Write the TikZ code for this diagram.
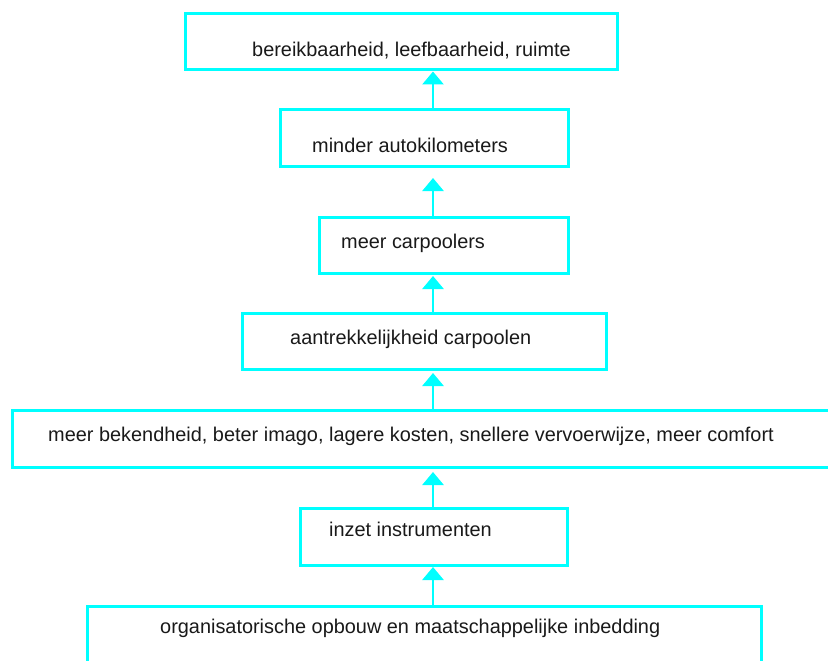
\documentclass[tikz,border=0pt]{standalone}
\usepackage{fontspec}
\setmainfont{Liberation Sans}
\usetikzlibrary{arrows.meta}
\definecolor{boxcyan}{RGB}{0,255,255}
\tikzset{
  box/.style={draw=boxcyan, line width=3pt, rectangle, inner sep=0pt, outer sep=0pt},
  label/.style={anchor=base west, inner sep=0pt, font=\fontsize{19.9}{22}\selectfont, text=black!90},
  link/.style={draw=boxcyan, line width=2.8pt, -{Triangle[width=21pt,length=13pt]}}
}
\begin{document}
\begin{tikzpicture}[x=1pt, y=-1pt]
\useasboundingbox (0,0) rectangle (828,661);
\clip (0,0) rectangle (828,661);

% boxes, from top to bottom
\node[box, minimum width=432pt, minimum height=56pt] (b1) at (401,42) {};
\node[box, minimum width=288pt, minimum height=56pt] (b2) at (424,138) {};
\node[box, minimum width=249pt, minimum height=56pt] (b3) at (443.5,245) {};
\node[box, minimum width=364pt, minimum height=56pt] (b4) at (424,341) {};
\node[box, minimum width=840pt, minimum height=57pt] (b5) at (432,438.5) {};
\node[box, minimum width=267pt, minimum height=57pt] (b6) at (433.5,536.5) {};
\node[box, minimum width=674pt, minimum height=58pt] (b7) at (424,635) {};

% texts
\node[label] (t1) at (252,57) {bereikbaarheid, leefbaarheid, ruimte};
\node[label] (t2) at (312,153) {minder autokilometers};
\node[label] (t3) at (341,248) {meer carpoolers};
\node[label] (t4) at (290,344) {aantrekkelijkheid carpoolen};
\node[label] (t5) at (48,441) {meer bekendheid, beter imago, lagere kosten, snellere vervoerwijze, meer comfort};
\node[label] (t6) at (329,536) {inzet instrumenten};
\node[label] (t7) at (160,633) {organisatorische opbouw en maatschappelijke inbedding};

% vertical axis of the arrows
\coordinate (ax) at (433,0);

% arrows
\draw[link, shorten >=1.5pt] (b2.north -| ax) -- (b1.south -| ax);
\draw[link, shorten >=12pt] (b3.north -| ax) -- (b2.south -| ax);
\draw[link, shorten >=3pt] (b4.north -| ax) -- (b3.south -| ax);
\draw[link, shorten >=4pt] (b5.north -| ax) -- (b4.south -| ax);
\draw[link, shorten >=5pt] (b6.north -| ax) -- (b5.south -| ax);
\draw[link, shorten >=2pt] (b7.north -| ax) -- (b6.south -| ax);
\end{tikzpicture}
\end{document}
